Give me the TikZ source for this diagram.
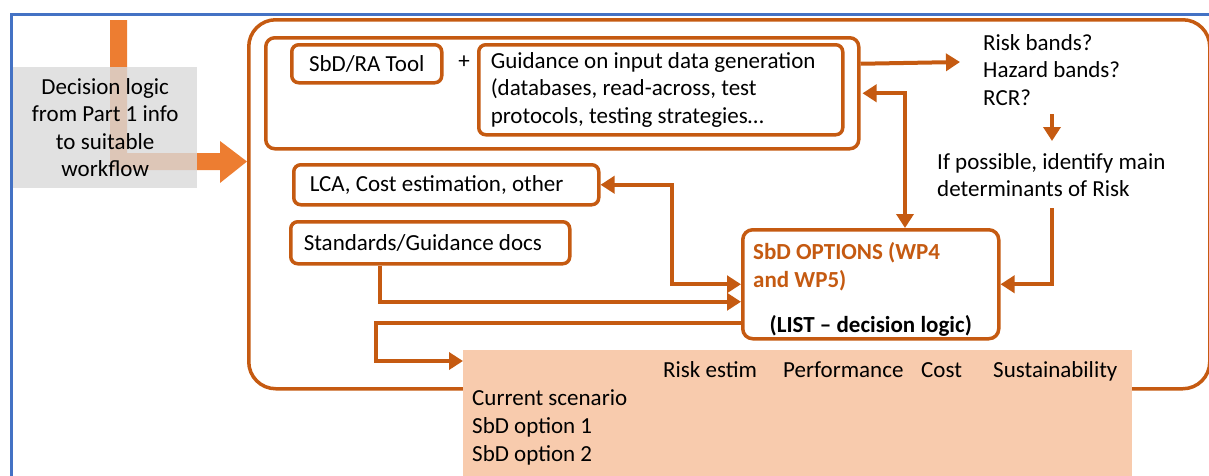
\documentclass[tikz,border=0pt]{standalone}
\usepackage{fontspec}
\setmainfont{Carlito}
\usetikzlibrary{arrows.meta}
\definecolor{sbdorange}{HTML}{C55A11}
\definecolor{flowarrow}{HTML}{ED7D31}
\definecolor{peach}{HTML}{F8CBAD}
\definecolor{framblue}{HTML}{4472C4}
\definecolor{panelgrey}{HTML}{D9D9D9}
\tikzset{
  box/.style={draw=sbdorange, line width=3.5pt, rounded corners=7pt, fill=white,
    anchor=north west, inner ysep=0pt},
  link/.style={draw=sbdorange, line width=4pt, ->},
  twoway/.style={draw=sbdorange, line width=4pt, <->},
  txt/.style={inner sep=0pt, align=left},
  cell/.style={inner sep=0pt, anchor=base west},
}
\begin{document}
\begin{tikzpicture}[x=1pt, y=-1pt,
  >={Triangle[length=14pt,width=17pt]},
  font=\fontsize{23}{27.5}\selectfont]
\useasboundingbox (0,0) rectangle (1209,475);

% page frame
\draw[framblue, line width=3pt] (11,480) -- (11,14) -- (1220,14);

% entry arrow from the decision logic
\fill[flowarrow] (110,20) -- (127,20) -- (127,153) -- (220,153) -- (220,141)
  -- (247,161.5) -- (220,183) -- (220,170) -- (110,170) -- cycle;
\node[fill=panelgrey, fill opacity=0.8, text opacity=1, anchor=north west,
  minimum width=184pt, minimum height=121pt, align=center, inner sep=0pt]
  (logic) at (13,67) {Decision logic\\from Part 1 info\\to suitable\\workflow};

% workflow panel
\node[box, rounded corners=27pt, fill=none, minimum width=961pt, minimum height=369pt]
  (panel) at (247,18) {};

% tool group
\node[box, rounded corners=9pt, minimum width=593pt, minimum height=111pt]
  (toolgroup) at (264,36) {};
\node[box, minimum width=150pt, minimum height=38pt] (tool) at (290,43) {SbD/RA Tool};
\node[txt] (plus) at (464,62) {+};
\node[box, minimum height=90pt, inner xsep=12pt, text width=340pt, align=flush left]
  (guidance) at (477,43)
  {Guidance on input data generation\\(databases, read-across, test\\protocols, testing strategies\ldots};

% risk outputs
\node[txt, anchor=west] (bands) at (983,70) {Risk bands?\\Hazard bands?\\RCR?};
\node[txt, anchor=west] (determinants) at (937,175)
  {If possible, identify main\\determinants of Risk};
\coordinate (bandsin) at (960,62);
\coordinate (bandsout) at (1052,114);
\coordinate (detin) at (1052,141);
\coordinate (detout) at (1052,208);

% side inputs
\node[box, minimum height=40pt, inner xsep=16pt, text width=273pt, align=flush left]
  (lca) at (292,163) {LCA, Cost estimation, other};
\node[box, minimum height=42pt, inner xsep=13pt, text width=253pt, align=flush left]
  (standards) at (289,220) {Standards/Guidance docs};

% SbD options
\node[box, rounded corners=10pt, minimum width=256pt, minimum height=109pt]
  (options) at (741,228) {};
\node[txt, anchor=north west, text=sbdorange, font=\fontsize{23}{28}\selectfont\bfseries]
  (optitle) at ([xshift=12pt,yshift=-14pt]options.north west) {SbD OPTIONS (WP4\\and WP5)};
\node[txt, anchor=base, font=\fontsize{23}{27.5}\selectfont\bfseries]
  (oplist) at ([yshift=8pt]options.south) {(LIST -- decision logic)};

% comparison table
\node[fill=peach, anchor=north west, minimum width=669pt, minimum height=140pt, inner sep=0pt]
  (table) at (463,350) {};
\node[cell] (hrisk) at (663,377) {Risk estim};
\node[cell] (hperf) at (783,377) {Performance};
\node[cell] (hcost) at (921,377) {Cost};
\node[cell] (hsust) at (993,377) {Sustainability};
\node[cell] (rcur) at (472,405) {Current scenario};
\node[cell] (ropt1) at (472,433) {SbD option 1};
\node[cell] (ropt2) at (472,461) {SbD option 2};
\coordinate (tablein) at (463,361);

% connectors
\draw[link] ([yshift=29.5pt]toolgroup.east) -- (bandsin);
\draw[link] (bandsout) -- (detin);
\draw[link] (detout) |- (options.east);
\draw[twoway] ([xshift=2pt]toolgroup.east) -| (options.north -| 905,0);
\draw[twoway] (lca.east) -| (672,240) |- (options.west);
\draw[link] (standards.south -| 380,0) |- ([yshift=-17.5pt]options.west);
\draw[link] ([yshift=-38.5pt]options.west) -| (376,340) |- (tablein);
\end{tikzpicture}
\end{document}
